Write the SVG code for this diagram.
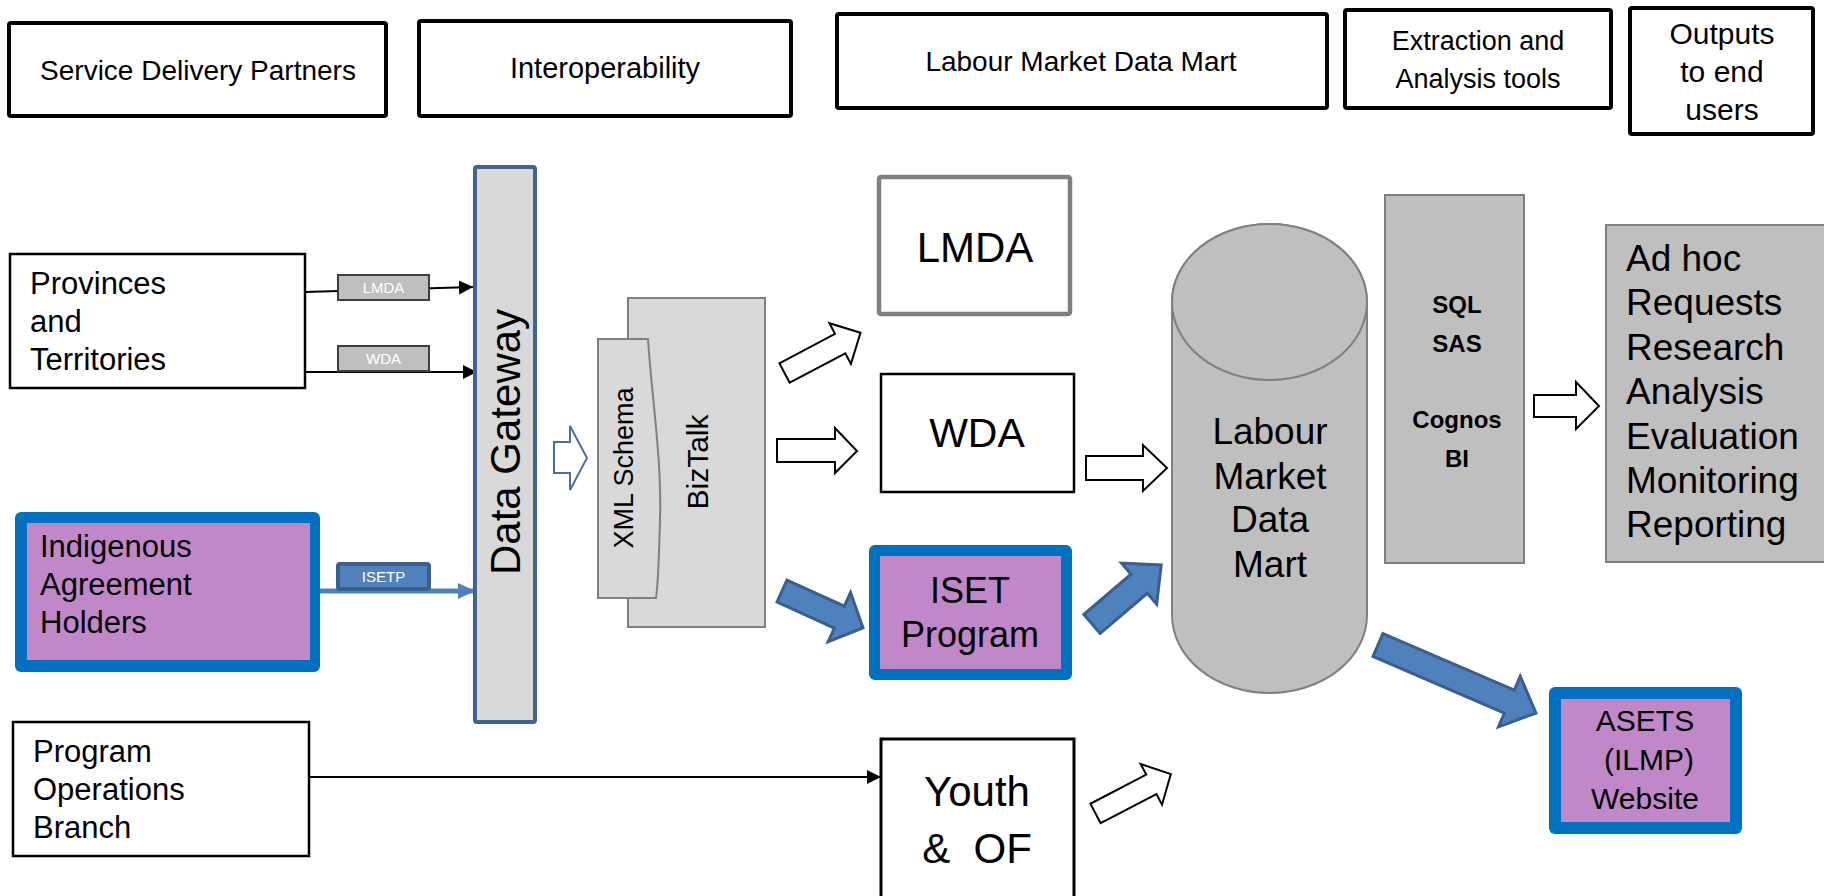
<svg xmlns="http://www.w3.org/2000/svg" width="1824" height="896" viewBox="0 0 1824 896">
<style>
  text { font-family: "Liberation Sans", Arial, sans-serif; fill: #000; }
  .hdr { fill: #fff; stroke: #000; stroke-width: 4; }
  .box { fill: #fff; stroke: #000; stroke-width: 2.5; }
  .gray { fill: #BFBFBF; stroke: #808080; stroke-width: 2; }
  .lgray { fill: #D9D9D9; stroke: #808080; stroke-width: 2; }
  .blueframe { fill: #0070C0; }
  .purple { fill: #C088C8; }
  .wharrow { fill: #fff; stroke: #000; stroke-width: 2; }
  .blarrow { fill: #4F81BD; stroke: #3A5F8F; stroke-width: 3; }
  .line { stroke: #000; stroke-width: 2; fill: none; }
  .lbl { fill: #BFBFBF; stroke: #3F3F3F; stroke-width: 2; }
  .lbltxt { fill: #fff; font-size: 15px; text-anchor: middle; }
  .mid { text-anchor: middle; }
</style>
<defs>
  <marker id="ah" markerUnits="userSpaceOnUse" markerWidth="15" markerHeight="15" refX="14" refY="7" orient="auto">
    <path d="M0,0 L14,7 L0,14 Z" fill="#000"/>
  </marker>
  <marker id="ahb" markerUnits="userSpaceOnUse" markerWidth="18" markerHeight="18" refX="17" refY="8" orient="auto">
    <path d="M0,0 L17,8 L0,16 Z" fill="#4F81BD"/>
  </marker>
</defs>
<rect width="1824" height="896" fill="#fff"/>

<!-- Header boxes -->
<g id="hdr-sdp">
  <rect class="hdr" x="9" y="23" width="377" height="93" rx="2"/>
  <text class="mid" x="198" y="80" font-size="28">Service Delivery Partners</text>
</g>
<g id="hdr-interop">
  <rect class="hdr" x="419" y="21" width="372" height="95" rx="2"/>
  <text class="mid" x="605" y="78" font-size="29">Interoperability</text>
</g>
<g id="hdr-lmdm">
  <rect class="hdr" x="837" y="14" width="490" height="94" rx="2"/>
  <text class="mid" x="1081" y="71" font-size="28">Labour Market Data Mart</text>
</g>
<g id="hdr-extract">
  <rect class="hdr" x="1345" y="10" width="266" height="98" rx="2"/>
  <text class="mid" x="1478" y="50" font-size="27">Extraction and</text>
  <text class="mid" x="1478" y="88" font-size="27">Analysis tools</text>
</g>
<g id="hdr-outputs">
  <rect class="hdr" x="1630" y="8" width="183" height="126" rx="2"/>
  <text class="mid" x="1722" y="44" font-size="30">Outputs</text>
  <text class="mid" x="1722" y="82" font-size="30">to end</text>
  <text class="mid" x="1722" y="120" font-size="30">users</text>
</g>

<!-- Connectors -->
<g id="connectors">
  <line class="line" x1="305" y1="292" x2="473" y2="287" marker-end="url(#ah)"/>
  <line class="line" x1="305" y1="372" x2="477" y2="372" marker-end="url(#ah)"/>
  <line x1="320" y1="591" x2="475" y2="591" stroke="#4F81BD" stroke-width="5" marker-end="url(#ahb)"/>
  <line class="line" x1="310" y1="777" x2="881" y2="777" marker-end="url(#ah)"/>
  <!-- block arrows -->
  <path d="M554,442 L570,442 L570,426 L587,458 L570,490 L570,473 L554,473 Z" fill="#fff" stroke="#4A6FA5" stroke-width="2"/>
  <path class="wharrow" transform="translate(784.5,373) rotate(-27.9)" d="M0,-11 L63,-11 L63,-23 L86,0 L63,23 L63,11 L0,11 Z"/>
  <path class="wharrow" d="M777,439 L835,439 L835,428 L857,451 L835,473 L835,462 L777,462 Z"/>
  <path class="blarrow" transform="translate(782,591) rotate(24.5)" d="M0,-12 L63,-12 L63,-27 L89,0 L63,27 L63,12 L0,12 Z"/>
  <path class="wharrow" d="M1086,456 L1143,456 L1143,445 L1167,468 L1143,491 L1143,480 L1086,480 Z"/>
  <path class="blarrow" transform="translate(1092,624) rotate(-40.5)" d="M0,-12.5 L62,-12.5 L62,-27 L91,0 L62,27 L62,12.5 L0,12.5 Z"/>
  <path class="wharrow" transform="translate(1095.5,813.5) rotate(-27.6)" d="M0,-11 L63,-11 L63,-23 L85,0 L63,23 L63,11 L0,11 Z"/>
  <path class="blarrow" transform="translate(1378,645) rotate(23.3)" d="M0,-12.5 L143,-12.5 L143,-27.5 L172,0 L143,27.5 L143,12.5 L0,12.5 Z"/>
  <path class="wharrow" d="M1534,395 L1576,395 L1576,382 L1599,406 L1576,429 L1576,417 L1534,417 Z"/>
</g>

<!-- Connector labels -->
<g id="lbl-lmda">
  <rect class="lbl" x="338" y="275" width="91" height="25"/>
  <text class="lbltxt" x="383.5" y="293">LMDA</text>
</g>
<g id="lbl-wda">
  <rect class="lbl" x="338" y="346" width="91" height="25"/>
  <text class="lbltxt" x="383.5" y="364">WDA</text>
</g>
<g id="lbl-isetp">
  <rect x="338" y="564" width="91" height="25" fill="#4F81BD" stroke="#3A5F8F" stroke-width="4" rx="2"/>
  <text class="lbltxt" x="383.5" y="582">ISETP</text>
</g>

<!-- Left nodes -->
<g id="provinces">
  <rect class="box" x="10" y="254" width="295" height="134"/>
  <text x="30" y="294" font-size="31">Provinces</text>
  <text x="30" y="332" font-size="31">and</text>
  <text x="30" y="370" font-size="31">Territories</text>
</g>
<g id="indigenous">
  <rect class="blueframe" x="15" y="512" width="305" height="160" rx="6"/>
  <rect class="purple" x="27" y="523" width="283" height="137"/>
  <text x="40" y="557" font-size="31">Indigenous</text>
  <text x="40" y="595" font-size="31">Agreement</text>
  <text x="40" y="633" font-size="31">Holders</text>
</g>
<g id="program-ops">
  <rect class="box" x="13" y="722" width="296" height="134"/>
  <text x="33" y="762" font-size="31">Program</text>
  <text x="33" y="800" font-size="31">Operations</text>
  <text x="33" y="838" font-size="31">Branch</text>
</g>

<!-- Data Gateway -->
<g id="data-gateway">
  <rect x="475" y="167" width="60" height="555" fill="#D9D9D9" stroke="#41648F" stroke-width="4" rx="2"/>
  <text class="mid" transform="translate(505,442) rotate(-90)" y="15" font-size="42">Data Gateway</text>
</g>

<!-- BizTalk / XML Schema -->
<g id="biztalk">
  <rect class="lgray" x="628" y="298" width="137" height="329"/>
  <text class="mid" transform="translate(697,462) rotate(-90)" y="10.7" font-size="30">BizTalk</text>
</g>
<g id="xml-schema">
  <path class="lgray" d="M598,339 L648,339 C652,400 662,460 660,520 C659,560 658,585 656,598 L598,598 Z"/>
  <text class="mid" transform="translate(623,468) rotate(-90)" y="9.5" font-size="27">XML Schema</text>
</g>

<!-- Middle nodes -->
<g id="lmda">
  <rect x="879" y="177" width="191" height="137" fill="#fff" stroke="#808080" stroke-width="4.5" rx="2"/>
  <text class="mid" x="975" y="262" font-size="42">LMDA</text>
</g>
<g id="wda">
  <rect class="box" x="881" y="374" width="193" height="118"/>
  <text class="mid" x="977" y="447" font-size="41">WDA</text>
</g>
<g id="iset">
  <rect class="blueframe" x="869" y="545" width="203" height="135" rx="6"/>
  <rect class="purple" x="880" y="556" width="181" height="113"/>
  <text class="mid" x="970" y="603" font-size="36">ISET</text>
  <text class="mid" x="970" y="647" font-size="36">Program</text>
</g>
<g id="youth">
  <rect x="881" y="739" width="193" height="170" fill="#fff" stroke="#000" stroke-width="3"/>
  <text class="mid" x="977" y="806" font-size="42">Youth</text>
  <text class="mid" x="977" y="863" font-size="42" xml:space="preserve">&amp;  OF</text>
</g>

<!-- Data mart cylinder -->
<g id="data-mart">
  <path d="M1172,302 L1172,615 A97.5,78 0 0 0 1367,615 L1367,302 A97.5,78 0 0 0 1172,302 Z" fill="#BFBFBF" stroke="#808080" stroke-width="2"/>
  <ellipse cx="1269.5" cy="302" rx="97.5" ry="78" fill="#BFBFBF" stroke="#808080" stroke-width="2"/>
  <text class="mid" x="1270" y="444" font-size="37">Labour</text>
  <text class="mid" x="1270" y="489" font-size="37">Market</text>
  <text class="mid" x="1270" y="532" font-size="37">Data</text>
  <text class="mid" x="1270" y="577" font-size="37">Mart</text>
</g>

<!-- Tools -->
<g id="tools">
  <rect class="gray" x="1385" y="195" width="139" height="368"/>
  <text class="mid" x="1457" y="313" font-size="24" font-weight="bold">SQL</text>
  <text class="mid" x="1457" y="352" font-size="24" font-weight="bold">SAS</text>
  <text class="mid" x="1457" y="428" font-size="24" font-weight="bold">Cognos</text>
  <text class="mid" x="1457" y="467" font-size="24" font-weight="bold">BI</text>
</g>

<!-- Outputs -->
<g id="outputs">
  <rect class="gray" x="1606" y="225" width="230" height="337"/>
  <text x="1626" y="271" font-size="37">Ad hoc</text>
  <text x="1626" y="315" font-size="37">Requests</text>
  <text x="1626" y="360" font-size="37">Research</text>
  <text x="1626" y="404" font-size="37">Analysis</text>
  <text x="1626" y="449" font-size="37">Evaluation</text>
  <text x="1626" y="493" font-size="37">Monitoring</text>
  <text x="1626" y="537" font-size="37">Reporting</text>
</g>

<!-- ASETS -->
<g id="asets">
  <rect class="blueframe" x="1549" y="687" width="193" height="147" rx="6"/>
  <rect class="purple" x="1561" y="699" width="169" height="123"/>
  <text class="mid" x="1645" y="731" font-size="30">ASETS</text>
  <text class="mid" x="1649" y="770" font-size="30">(ILMP)</text>
  <text class="mid" x="1645" y="809" font-size="30">Website</text>
</g>
</svg>
